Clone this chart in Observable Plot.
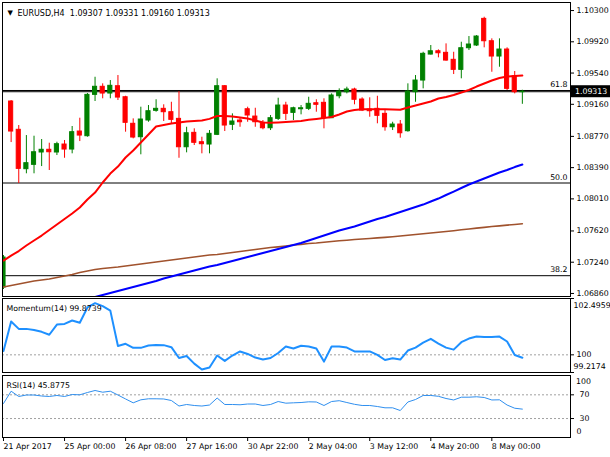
<!DOCTYPE html>
<html><head><meta charset="utf-8">
<script src="https://cdn.jsdelivr.net/npm/d3@7"></script>
<script src="https://cdn.jsdelivr.net/npm/@observablehq/plot@0.6"></script>
<style>
html,body{margin:0;padding:0;background:#fff;}
#chart{position:relative;width:610px;height:457px;overflow:hidden;background:#fff;}
#chart svg{position:absolute;left:0;}
#chart .lbl{position:absolute;z-index:10;font-family:'DejaVu Sans',sans-serif;font-size:7.8px;line-height:10px;color:#000;white-space:nowrap;}
</style></head><body><div id="chart"></div>
<script>
// ---------- data ----------
const symbol = "EURUSD,H4";
const openP  = [1.06932,1.09194,1.08850,1.08371,1.08424,1.08574,1.08607,1.08574,1.08671,1.08610,1.08829,1.08772,1.09275,1.09373,1.09291,1.09380,1.09246,1.08923,1.08760,1.08963,1.09081,1.09105,1.09064,1.08983,1.08638,1.08813,1.08699,1.08671,1.08789,1.09380,1.08911,1.08963,1.09100,1.09011,1.08935,1.08869,1.08983,1.09145,1.09056,1.09100,1.09105,1.09173,1.09178,1.08991,1.09258,1.09307,1.09340,1.09218,1.09097,1.09105,1.09044,1.08881,1.08914,1.08833,1.09307,1.09449,1.09765,1.09805,1.09786,1.09701,1.09579,1.09842,1.09875,1.10199,1.09927,1.09741,1.09826,1.09501,1.09307];
const highP  = [1.07321,1.09206,1.08902,1.08780,1.08772,1.08732,1.08687,1.08699,1.08720,1.08890,1.08991,1.09291,1.09489,1.09409,1.09449,1.09510,1.09258,1.08983,1.09125,1.09145,1.09215,1.09154,1.09185,1.09315,1.08881,1.08862,1.08760,1.08841,1.09470,1.09388,1.09044,1.08996,1.09125,1.09112,1.08963,1.09024,1.09234,1.09185,1.09125,1.09145,1.09246,1.09215,1.09227,1.09287,1.09348,1.09368,1.09356,1.09239,1.09239,1.09258,1.09093,1.08942,1.08963,1.09409,1.09510,1.09793,1.09875,1.09822,1.09895,1.09793,1.09915,1.09984,1.09996,1.10219,1.09956,1.09956,1.09847,1.09559,1.09331];
const lowP   = [1.06908,1.08695,1.08197,1.08315,1.08315,1.08403,1.08355,1.08537,1.08504,1.08558,1.08707,1.08760,1.09194,1.09227,1.09227,1.09206,1.08821,1.08740,1.08546,1.08942,1.09064,1.08951,1.08923,1.08504,1.08570,1.08659,1.08558,1.08558,1.08780,1.08829,1.08841,1.08881,1.08942,1.08881,1.08850,1.08841,1.08963,1.08963,1.08963,1.09032,1.09084,1.09064,1.08862,1.08987,1.09227,1.09287,1.09154,1.09072,1.09003,1.08923,1.08833,1.08841,1.08748,1.08821,1.09185,1.09348,1.09760,1.09725,1.09684,1.09522,1.09470,1.09814,1.09863,1.09847,1.09550,1.09611,1.09328,1.09287,1.09160];
const closeP = [1.07297,1.08829,1.08375,1.08444,1.08577,1.08607,1.08577,1.08675,1.08610,1.08821,1.08780,1.09275,1.09373,1.09291,1.09385,1.09242,1.08935,1.08756,1.08975,1.09076,1.09105,1.09064,1.08971,1.08638,1.08808,1.08692,1.08675,1.08801,1.09380,1.08902,1.08951,1.08942,1.09024,1.08942,1.08869,1.08991,1.09145,1.09044,1.09112,1.09112,1.09166,1.09154,1.08991,1.09267,1.09315,1.09340,1.09215,1.09084,1.09076,1.09020,1.08881,1.08914,1.08808,1.09315,1.09449,1.09774,1.09805,1.09781,1.09692,1.09579,1.09842,1.09887,1.09984,1.09927,1.09741,1.09826,1.09348,1.09307,1.09313];
const maRed = [1.07260,1.07321,1.07376,1.07443,1.07504,1.07564,1.07631,1.07698,1.07765,1.07832,1.07905,1.08002,1.08087,1.08209,1.08318,1.08403,1.08513,1.08598,1.08695,1.08793,1.08890,1.08908,1.08926,1.08939,1.08951,1.08957,1.08963,1.08983,1.09018,1.09018,1.09011,1.08999,1.08987,1.08963,1.08939,1.08935,1.08939,1.08945,1.08951,1.08957,1.08971,1.08981,1.08993,1.09005,1.09036,1.09072,1.09090,1.09100,1.09100,1.09100,1.09100,1.09097,1.09093,1.09121,1.09145,1.09170,1.09194,1.09230,1.09249,1.09273,1.09303,1.09334,1.09376,1.09413,1.09449,1.09480,1.09498,1.09504,1.09510];
const maBlue = [null,null,null,null,null,null,null,null,null,null,null,null,1.06817,1.06841,1.06865,1.06890,1.06914,1.06938,1.06963,1.06987,1.07011,1.07042,1.07066,1.07090,1.07115,1.07139,1.07163,1.07187,1.07206,1.07230,1.07254,1.07279,1.07303,1.07327,1.07352,1.07376,1.07400,1.07425,1.07449,1.07473,1.07504,1.07534,1.07564,1.07595,1.07625,1.07650,1.07674,1.07704,1.07735,1.07765,1.07789,1.07820,1.07850,1.07881,1.07911,1.07941,1.07978,1.08014,1.08057,1.08099,1.08142,1.08185,1.08221,1.08258,1.08294,1.08331,1.08361,1.08397,1.08428];
const maBrown = [1.06938,1.06956,1.06975,1.06993,1.07011,1.07023,1.07035,1.07054,1.07072,1.07090,1.07115,1.07133,1.07151,1.07163,1.07173,1.07181,1.07194,1.07206,1.07218,1.07230,1.07242,1.07254,1.07267,1.07279,1.07291,1.07303,1.07315,1.07327,1.07333,1.07346,1.07358,1.07370,1.07382,1.07394,1.07406,1.07419,1.07427,1.07437,1.07449,1.07457,1.07467,1.07473,1.07482,1.07491,1.07500,1.07507,1.07516,1.07522,1.07528,1.07536,1.07542,1.07550,1.07558,1.07568,1.07577,1.07586,1.07595,1.07604,1.07613,1.07623,1.07634,1.07643,1.07654,1.07664,1.07674,1.07682,1.07691,1.07698,1.07707];
const momentum = [100.17,101.48,101.15,101.15,101.10,101.02,100.89,101.34,101.37,101.52,101.42,102.10,102.29,102.16,101.96,100.39,100.49,100.31,100.31,100.41,100.44,100.43,100.34,99.86,99.95,99.61,99.35,99.44,99.97,99.73,99.97,100.15,100.04,99.88,99.79,99.86,100.08,100.37,100.28,100.40,100.37,100.28,99.70,100.37,100.37,100.32,100.15,100.15,100.15,100.00,99.77,99.85,99.79,100.19,100.32,100.54,100.71,100.50,100.32,100.23,100.56,100.72,100.81,100.79,100.79,100.81,100.59,99.99,99.8739];
const rsi = [55.4,76.1,67.2,69.7,69.7,68.0,67.2,68.9,67.2,70.5,70.0,73.9,77.3,74.4,76.1,69.7,63.0,56.5,61.6,63.3,63.3,63.0,60.4,51.1,53.7,52.0,51.1,52.8,64.6,53.7,53.7,53.2,54.5,54.5,52.0,53.7,58.7,55.9,56.5,57.0,58.2,57.9,52.0,58.7,60.1,57.0,54.0,52.0,52.0,50.3,48.1,48.1,43.5,57.9,62.1,68.9,68.9,67.5,63.8,61.3,66.0,66.0,66.7,65.5,61.3,61.6,52.8,47.4,45.8775];
const priceTicks = [1.10300,1.09920,1.09540,1.09160,1.08770,1.08390,1.08010,1.07620,1.07240,1.06860];
const fibLevels = [1.09328,1.08203,1.07076];
const fibLabels = ["61.8","50.0","38.2"];
const momRange = [99.2174,102.4959];
const momLevel = 100;
const rsiLevels = [70,30];
const rsiBounds = [0,100];
const xTickIdx = [0,8,16,24,32,40,48,56,64];
const xTickLabels = ["21 Apr 2017","25 Apr 00:00","26 Apr 08:00","27 Apr 16:00","30 Apr 22:00","2 May 04:00","3 May 12:00","4 May 20:00","8 May 00:00"];

// ---------- build ----------
const FONT = "'DejaVu Sans', sans-serif";
const FS = "7.8px";
const GREEN = "#008000", RED = "#ff0000";
const idx = d3.range(openP.length);
const candles = idx.map(i => ({i, o: openP[i], h: highP[i], l: lowP[i], c: closeP[i], up: closeP[i] >= openP[i]}));
const last = candles[candles.length - 1];
const xOpt = {domain: [-0.131, 74.31], axis: null};
const style = {background: "transparent", fontFamily: FONT, fontSize: FS, color: "#000", overflow: "visible"};
const chart = document.getElementById("chart");
const f5 = d => d.toFixed(5);

const mainSvg = Plot.plot({
  width: 610, height: 298, marginLeft: 2, marginRight: 40, marginTop: 2, marginBottom: 2,
  x: xOpt, y: {domain: [1.06823, 1.10398], axis: null}, style,
  marks: [
    Plot.ruleY(fibLevels, {stroke: "#000", strokeWidth: 1}),
    Plot.ruleY([last.c], {stroke: "#000", strokeWidth: 1}),
    Plot.text(fibLevels, {y: d => d, text: (d, i) => fibLabels[i], frameAnchor: "right", textAnchor: "end", dx: -3, dy: -6, fill: "#000"}),
    Plot.ruleX(candles, {x: "i", y1: "l", y2: "h", stroke: d => d.up ? GREEN : RED, clip: true}),
    Plot.rect(candles, {x1: d => d.i - 0.27, x2: d => d.i + 0.27, y1: d => Math.min(d.o, d.c), y2: d => Math.max(d.o, d.c),
      fill: d => d.up ? GREEN : RED, stroke: d => d.up ? GREEN : RED, strokeWidth: 1, clip: true}),
    Plot.line(idx, {x: d => d, y: d => maBrown[d], stroke: "#a0522d", strokeWidth: 1.6, clip: true}),
    Plot.line(idx, {x: d => d, y: d => maBlue[d], stroke: "#0000ff", strokeWidth: 2, clip: true}),
    Plot.line(idx, {x: d => d, y: d => maRed[d], stroke: "#ff0000", strokeWidth: 2, clip: true}),
    Plot.frame({stroke: "#000"}),
    Plot.axisY({anchor: "right", ticks: priceTicks, tickFormat: f5, tickSize: 3, tickPadding: 3}),
    Plot.text(["\u25BC"], {frameAnchor: "top-left", dx: 5, dy: 8, textAnchor: "start", fill: "#000", fontSize: 7}),
    Plot.text([`${symbol}  ${f5(last.o)} ${f5(last.h)} ${f5(last.l)} ${f5(last.c)}`], {frameAnchor: "top-left", dx: 15, dy: 8, textAnchor: "start", fill: "#000", fontSize: 8})
  ]
});
mainSvg.style.top = "0px";
chart.appendChild(mainSvg);
// current price box on the price axis
{
  const ys = mainSvg.scale("y"), xs = mainSvg.scale("x");
  const yb = ys.apply(last.c), xr = xs.range[1];
  const g = d3.select(mainSvg).append("g").attr("text-anchor", "start");
  g.append("rect").attr("x", xr + 1).attr("y", yb - 6).attr("width", 40).attr("height", 12).attr("fill", "#000");
  g.append("text").attr("x", xr + 5).attr("y", yb).attr("dy", "0.35em").attr("fill", "#fff").attr("text-anchor", "start")
    .style("font-family", FONT).style("font-size", FS).text(f5(last.c));
}

const momSvg = Plot.plot({
  width: 610, height: 78, marginLeft: 2, marginRight: 40, marginTop: 2, marginBottom: 2,
  x: xOpt, y: {domain: momRange, axis: null}, style,
  marks: [
    Plot.ruleY([momLevel], {stroke: "#a0a0a0", strokeDasharray: "2,2"}),
    Plot.line(idx, {x: d => d, y: d => momentum[d], stroke: "#1e90ff", strokeWidth: 2, clip: true}),
    Plot.frame({stroke: "#000"}),
    Plot.axisY({anchor: "right", ticks: [momRange[1], momLevel, momRange[0]], tickFormat: () => "", tickSize: 3}),
    Plot.text([momRange[1]], {y: d => d, text: d => String(d), frameAnchor: "right", textAnchor: "start", dx: 3, dy: 7, fill: "#000"}),
    Plot.text([momLevel], {y: d => d, text: d => String(d), frameAnchor: "right", textAnchor: "start", dx: 6, fill: "#000"}),
    Plot.text([momRange[0]], {y: d => d, text: d => String(d), frameAnchor: "right", textAnchor: "start", dx: 3, dy: -6, fill: "#000"}),
    Plot.text([`Momentum(14) ${momentum[momentum.length - 1]}`], {frameAnchor: "top-left", dx: 4, dy: 7, textAnchor: "start", fill: "#000"})
  ]
});
momSvg.style.top = "296px";
chart.appendChild(momSvg);

const RSI_TOP = 373;
const rsiSvg = Plot.plot({
  width: 610, height: 84, marginLeft: 2, marginRight: 40, marginTop: 2, marginBottom: 20,
  x: xOpt, y: {domain: [-2, 102.6], axis: null}, style,
  marks: [
    Plot.ruleY(rsiLevels, {stroke: "#a0a0a0", strokeDasharray: "2,2"}),
    Plot.line(idx, {x: d => d, y: d => rsi[d], stroke: "#2f8fef", strokeWidth: 1, clip: true}),
    Plot.frame({stroke: "#000"}),
    Plot.axisY({anchor: "right", ticks: rsiLevels, tickSize: 3, tickPadding: 6}),
    Plot.axisY({anchor: "right", ticks: [rsiBounds[0]], tickSize: 0, tickPadding: 6, dy: -5}),
    Plot.text([`RSI(14) ${rsi[rsi.length - 1]}`], {frameAnchor: "top-left", dx: 4, dy: 7, textAnchor: "start", fill: "#000"}),
    Plot.axisX({ticks: xTickIdx, tickFormat: d => xTickLabels[xTickIdx.indexOf(d)], tickSize: 4, tickPadding: 2, textAnchor: "start", dx: 0})
  ]
});
rsiSvg.style.top = RSI_TOP + "px";
chart.appendChild(rsiSvg);
// RSI upper bound label as an HTML overlay, placed with the plot's own scales
{
  const ys = rsiSvg.scale("y"), xs = rsiSvg.scale("x");
  const div = document.createElement("div");
  div.className = "lbl";
  div.textContent = String(rsiBounds[1]);
  div.style.left = (xs.range[1] + 6) + "px";
  div.style.top = (RSI_TOP + ys.apply(rsiBounds[1]) + 5 - 5) + "px";
  chart.appendChild(div);
}
</script></body></html>
